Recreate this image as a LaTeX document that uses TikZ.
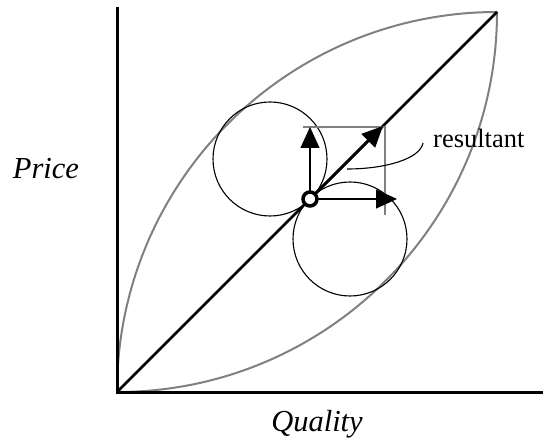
\documentclass[tikz,border=0pt]{standalone}
\usepackage{fontspec}
\setmainfont{Liberation Serif}
\usepackage{tikz}
\usetikzlibrary{arrows.meta,positioning}
\definecolor{curvegrey}{RGB}{128,128,128}
\tikzset{
    axisline/.style={line width=3pt},
    diagline/.style={line width=2.5pt},
    greycurve/.style={draw=curvegrey,line width=2pt},
    thincircle/.style={circle,draw,line width=1.1pt,minimum size=114pt,inner sep=0pt},
    thinarrow/.style={line width=1.1pt,-{Triangle[length=21pt,width=19pt]}},
    thickarrow/.style={line width=2.5pt,-{Triangle[length=21pt,width=19pt]}},
    roundel/.style={circle,draw,fill=white,line width=3.5pt,minimum size=14pt,inner sep=0pt},
    axislabel/.style={font=\fontsize{30.5}{36}\selectfont\itshape,inner sep=0pt}
}
\begin{document}
\begin{tikzpicture}[x=1pt,y=1pt]
\useasboundingbox (0,0) rectangle (543,439);
\coordinate (origin) at (117,47);
\coordinate (ytop) at (117,432);
\coordinate (xend) at (543,47);
\coordinate (peak) at (497,427);
\coordinate (pivot) at (310,240);
\coordinate (uptip) at (310,312);
\coordinate (righttip) at (397,240);
\coordinate (restip) at (383,313);
\coordinate (cornerleft) at (303,312);
\coordinate (corner) at (385,312);
\coordinate (cornerbottom) at (385,224);
\coordinate (labstart) at (347,270);
\coordinate (labend) at (423,296);

\draw[greycurve] (origin) arc[start angle=180,end angle=90,radius=380];
\draw[greycurve] (origin) arc[start angle=-90,end angle=0,radius=380];
\draw[axisline] (ytop) -- (origin) -- (xend);
\draw[diagline] (origin) -- (peak);

\node[thincircle] (upcircle) at (270,280) {};
\node[thincircle] (downcircle) at (350,200) {};

\draw[greycurve] (cornerleft) -- (corner) -- (cornerbottom);
\draw[thinarrow] (pivot) -- (uptip);
\draw[thinarrow] (pivot) -- (righttip);
\draw[thickarrow] (pivot) -- (restip);
\node[roundel] (pivotring) at (pivot) {};

\draw[line width=1.1pt] (labstart) .. controls (385,270) and (420,280) .. (labend);
\node[anchor=base west,inner sep=0pt,font=\fontsize{26.5}{32}\selectfont] (restext) at (433,291) {resultant};

\node[axislabel,anchor=base] (pricelabel) at (46,260) {Price};
\node[axislabel,anchor=base] (qualitylabel) at (317,8) {Quality};
\end{tikzpicture}
\end{document}
